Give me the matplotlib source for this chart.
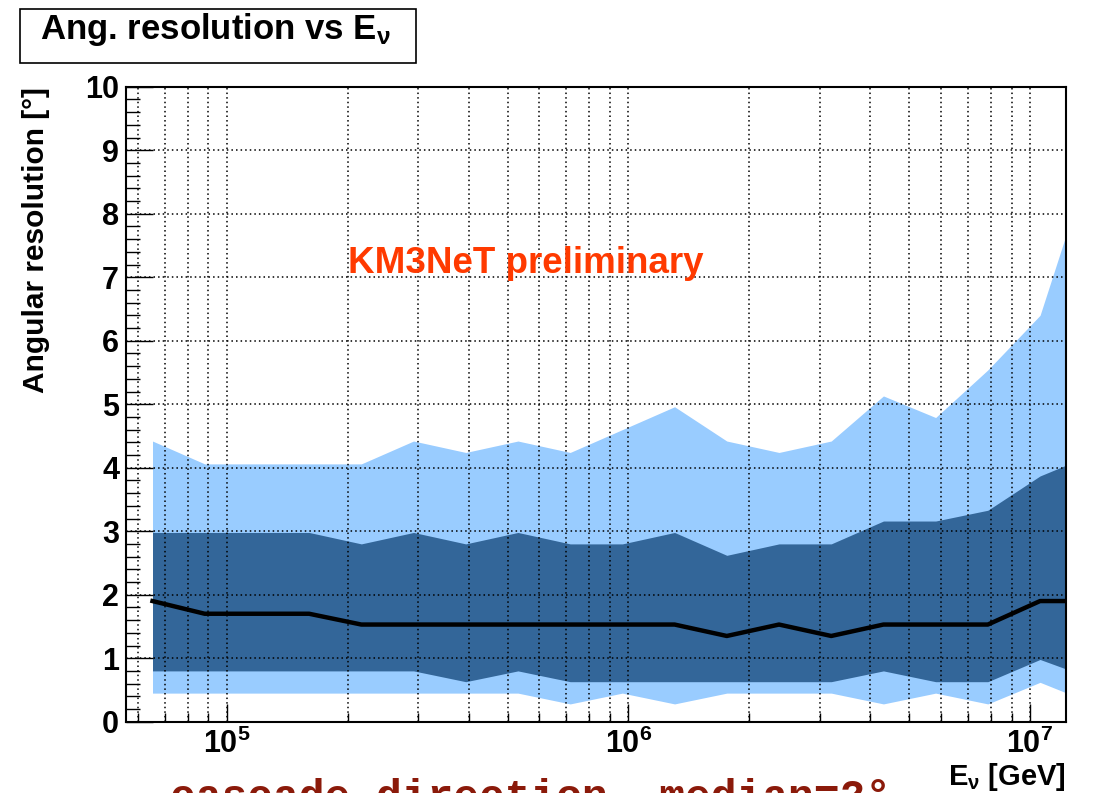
import numpy as np
import matplotlib
matplotlib.use("Agg")
import matplotlib.pyplot as plt
from matplotlib.ticker import MultipleLocator, LogLocator, LogFormatterMathtext, NullFormatter
from matplotlib.patches import Rectangle

plt.rcParams['font.family'] = ['Liberation Sans', 'DejaVu Sans']
plt.rcParams['font.weight'] = 'bold'
plt.rcParams['mathtext.fontset'] = 'custom'
plt.rcParams['mathtext.rm'] = 'Liberation Sans'
plt.rcParams['mathtext.bf'] = 'Liberation Sans:bold'
plt.rcParams['mathtext.it'] = 'Liberation Sans:italic'
plt.rcParams['mathtext.default'] = 'bf'

# log10(E/GeV) bin centres
log_e = [4.815, 4.945, 5.075, 5.205, 5.335, 5.465, 5.595, 5.725, 5.855, 5.985,
         6.115, 6.245, 6.375, 6.505, 6.635, 6.765, 6.895, 7.025, 7.155]

# angular resolution in degrees
median = [1.9, 1.7, 1.7, 1.7, 1.53, 1.53, 1.53, 1.53, 1.53, 1.53,
          1.53, 1.35, 1.53, 1.35, 1.53, 1.53, 1.53, 1.9, 1.9]
dark_hi = [2.98, 2.98, 2.98, 2.98, 2.8, 2.98, 2.8, 2.98, 2.8, 2.8,
           2.98, 2.62, 2.8, 2.8, 3.16, 3.16, 3.33, 3.87, 4.21]
dark_lo = [0.8, 0.8, 0.8, 0.8, 0.8, 0.8, 0.63, 0.8, 0.63, 0.63,
           0.63, 0.63, 0.63, 0.63, 0.8, 0.63, 0.63, 0.98, 0.68]
light_hi = [4.42, 4.06, 4.06, 4.06, 4.06, 4.42, 4.24, 4.42, 4.24, 4.6,
            4.96, 4.42, 4.24, 4.42, 5.13, 4.79, 5.54, 6.40, 8.94]
light_lo = [0.45, 0.45, 0.45, 0.45, 0.45, 0.45, 0.45, 0.45, 0.28, 0.45,
            0.28, 0.45, 0.45, 0.45, 0.28, 0.45, 0.28, 0.62, 0.29]

energy = 10 ** np.array(log_e)

W, H = 1094, 793
fig = plt.figure(figsize=(W / 100, H / 100), dpi=100)
ax = fig.add_axes([126 / W, 1 - 721.7 / H, 940 / W, 635 / H])

ax.fill_between(energy, light_lo, light_hi, color='#99ccff', lw=0, zorder=1)
ax.fill_between(energy, dark_lo, dark_hi, color='#336699', lw=0, zorder=1.5)
ax.plot(energy, median, color='black', lw=3.2, zorder=3)

ax.set_xscale('log')
ax.set_xlim(10 ** 4.749, 10 ** 7.0896)
ax.set_ylim(0, 10)

ax.xaxis.set_major_locator(LogLocator(base=10))
ax.xaxis.set_major_formatter(LogFormatterMathtext())
ax.xaxis.set_minor_locator(LogLocator(base=10, subs=np.arange(2, 10)))
ax.xaxis.set_minor_formatter(NullFormatter())
ax.yaxis.set_major_locator(MultipleLocator(1))
ax.yaxis.set_minor_locator(MultipleLocator(0.2))

ax.tick_params(axis='both', which='both', direction='in', top=False, right=False, width=1, color='black')
ax.tick_params(axis='x', which='major', length=13, labelsize=22, pad=5)
ax.tick_params(axis='x', which='minor', length=6.5)
ax.tick_params(axis='y', which='major', length=19.5, labelsize=22, pad=5)
ax.tick_params(axis='y', which='minor', length=10)

ax.set_axisbelow(False)
ax.grid(True, axis='x', which='both', color='black', lw=1.1, linestyle=(0, (1, 2)))
ax.grid(True, axis='y', which='major', color='black', lw=1.1, linestyle=(0, (1, 2)))

for s in ax.spines.values():
    s.set_linewidth(1.5)

# texts
fig.text(36 / W, 1 - 87 / H, 'Angular resolution [°]', rotation=90, ha='center', va='top', fontsize=21.5)
fig.text(1066 / W, 1 - 785 / H, r'E$_{\mathrm{\nu}}$ [GeV]', ha='right', va='baseline', fontsize=21)
fig.text(348 / W, 1 - 273 / H, 'KM3NeT preliminary', ha='left', va='baseline', fontsize=26.5, color='#ff3a00')

fig.patches.append(Rectangle((20 / W, 1 - 63 / H), 396 / W, 54 / H, transform=fig.transFigure,
                             facecolor='white', edgecolor='black', lw=1.2))
fig.text(40 / W, 1 - 38.5 / H, r'Ang. resolution vs E$_{\mathrm{\nu}}$', ha='left', va='baseline', fontsize=25)

# subtitle below the frame, cut by the picture edge as in the original
fig.text(170 / W, 1 - 809 / H, 'cascade direction, median=2°', ha='left', va='baseline',
         fontsize=31, color='#8b1a0a', family=['Liberation Mono', 'DejaVu Sans Mono'])

fig.savefig('out.png', dpi=100)
